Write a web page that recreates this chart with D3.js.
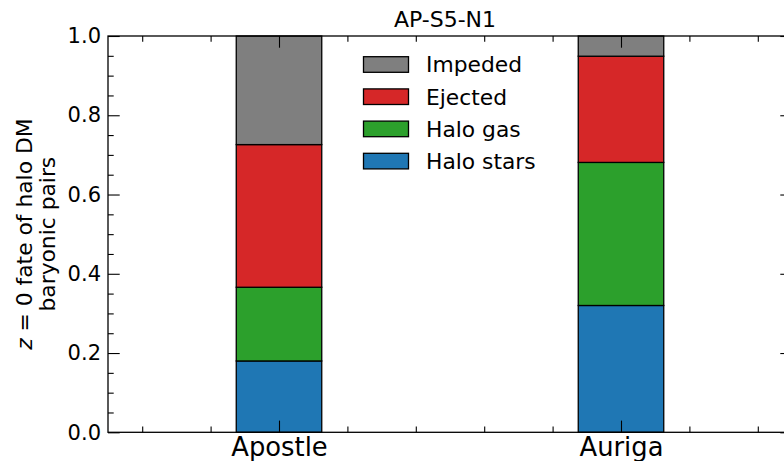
<!DOCTYPE html>
<html><head><meta charset="utf-8">
<script src="https://cdn.jsdelivr.net/npm/d3@7"></script>
<style>
body{margin:0;background:#fff;}
text{font-family:"DejaVu Sans",sans-serif;fill:#000;}
</style></head>
<body><svg id="c" width="784" height="461"></svg>
<script>
const categories = ["Apostle", "Auriga"];
const seriesNames = ["Halo stars", "Halo gas", "Ejected", "Impeded"];
const haloStars = [0.180, 0.320];
const haloGas = [0.186, 0.361];
const ejected = [0.360, 0.268];
const impeded = [0.274, 0.051];
const colors = ["#1f77b4", "#2ca02c", "#d62728", "#7f7f7f"];
const yMajor = [0.0, 0.2, 0.4, 0.6, 0.8, 1.0];
const yMinor = d3.range(0, 21).map(i => i * 0.05).filter(v => Math.abs(v * 5 - Math.round(v * 5)) > 1e-6);
const xMinor = [-0.4, -0.2, 0.2, 0.4, 0.6, 0.8, 1.2, 1.4];
const title = "AP-S5-N1";

const svg = d3.select("#c");
const L = 108, R = 792, T = 36, B = 432.3;
const x = d3.scaleLinear().domain([-0.5, 1.5]).range([L, R]);
const y = d3.scaleLinear().domain([0, 1]).range([B, T]);
const barW = x(0.25) - x(0);

const rows = categories.map((c, i) => ({
  idx: i, "Halo stars": haloStars[i], "Halo gas": haloGas[i], "Ejected": ejected[i], "Impeded": impeded[i]
}));
const stacked = d3.stack().keys(seriesNames)(rows);

const g = svg.append("g");
stacked.forEach((s, k) => {
  g.selectAll(null).data(s).enter().append("rect")
    .attr("x", d => x(d.data.idx) - barW / 2)
    .attr("width", barW)
    .attr("y", d => y(Math.min(d[1], 1)))
    .attr("height", d => y(d[0]) - y(Math.min(d[1], 1)))
    .attr("fill", colors[k])
    .attr("stroke", "#000")
    .attr("stroke-width", 1.3);
});

const fs = 21.8;
function style(sel, fsize) {
  sel.select(".domain").remove();
  sel.selectAll(".tick line").attr("stroke", "#000").attr("stroke-width", 1.1);
  sel.selectAll(".tick text").attr("font-size", fsize).attr("font-family", "DejaVu Sans").attr("fill", "#000");
}
// left
svg.append("g").attr("transform", `translate(${L},0)`)
  .call(d3.axisLeft(y).tickValues(yMajor).tickFormat(d3.format(".1f")).tickSize(-11.7).tickPadding(7))
  .call(s => style(s, 21));
svg.append("g").attr("transform", `translate(${L},0)`)
  .call(d3.axisLeft(y).tickValues(yMinor).tickFormat("").tickSize(-5.7))
  .call(s => style(s, 21));
// right
svg.append("g").attr("transform", `translate(${R},0)`)
  .call(d3.axisRight(y).tickValues(yMajor).tickFormat("").tickSize(-11.7))
  .call(s => style(s, 21));
svg.append("g").attr("transform", `translate(${R},0)`)
  .call(d3.axisRight(y).tickValues(yMinor).tickFormat("").tickSize(-5.7))
  .call(s => style(s, 21));
// bottom
svg.append("g").attr("transform", `translate(0,${B})`)
  .call(d3.axisBottom(x).tickValues([0, 1]).tickFormat(d => categories[d]).tickSize(-11.7).tickPadding(5.5))
  .call(s => style(s, 25.8));
svg.append("g").attr("transform", `translate(0,${B})`)
  .call(d3.axisBottom(x).tickValues(xMinor).tickFormat("").tickSize(-5.7))
  .call(s => style(s, 25.8));
// top
svg.append("g").attr("transform", `translate(0,${T})`)
  .call(d3.axisTop(x).tickValues([0, 1]).tickFormat("").tickSize(-11.7))
  .call(s => style(s, 25.8));
svg.append("g").attr("transform", `translate(0,${T})`)
  .call(d3.axisTop(x).tickValues(xMinor).tickFormat("").tickSize(-5.7))
  .call(s => style(s, 25.8));

// frame
svg.append("rect").attr("x", L).attr("y", T).attr("width", R - L).attr("height", B - T)
  .attr("fill", "none").attr("stroke", "#000").attr("stroke-width", 1.3);

// title
svg.append("text").attr("x", 445).attr("y", 27).attr("text-anchor", "middle")
  .attr("font-size", 22).text(title);

// y label
const yl = svg.append("text").attr("transform", `translate(31.5,${(T + B) / 2}) rotate(-90)`)
  .attr("text-anchor", "middle").attr("font-size", fs);
yl.append("tspan").attr("font-style", "italic").text("z");
yl.append("tspan").text(" = 0 fate of halo DM");
svg.append("text").attr("transform", `translate(55,${(T + B) / 2}) rotate(-90)`)
  .attr("text-anchor", "middle").attr("font-size", fs).text("baryonic pairs");

// legend
const legendOrder = seriesNames.map((n, i) => ({ n, c: colors[i] })).reverse();
const lg = svg.append("g");
legendOrder.forEach((d, i) => {
  const yy = 56.7 + i * 32.2;
  lg.append("rect").attr("x", 363.5).attr("y", yy).attr("width", 45).attr("height", 15.6)
    .attr("fill", d.c).attr("stroke", "#000").attr("stroke-width", 1.3);
  lg.append("text").attr("x", 426).attr("y", yy + 7.8 + 0.36 * fs).attr("font-size", fs).text(d.n);
});
</script></body></html>
